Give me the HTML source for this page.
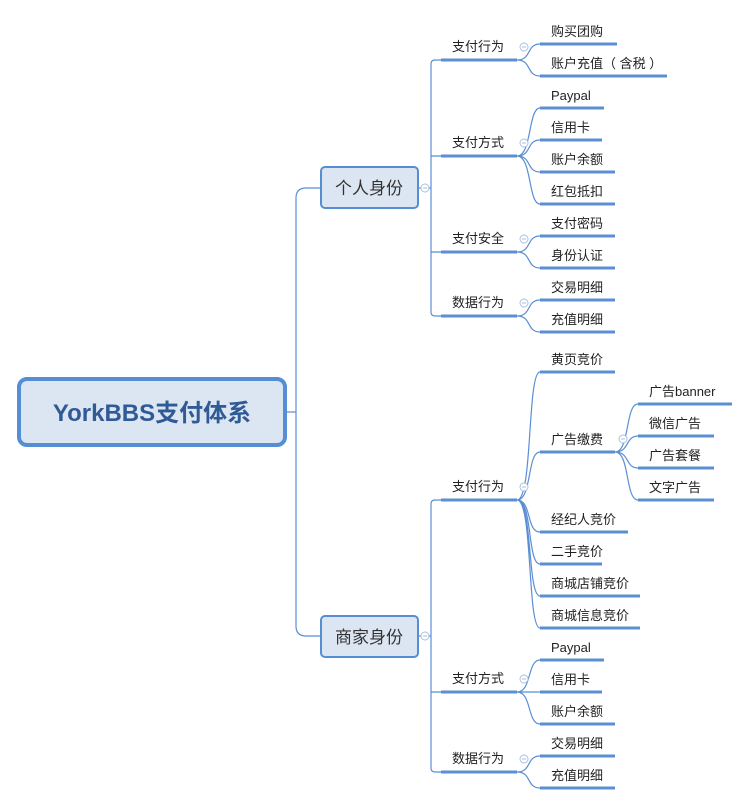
<!DOCTYPE html>
<html><head><meta charset="utf-8"><style>
body{margin:0;background:#fff}
svg{display:block}
text{font-family:"Liberation Sans","Noto Sans CJK SC",sans-serif;fill:#222;font-size:13px}
.u{stroke:#5b8fd4;stroke-width:3;fill:none}
.c{stroke:#5b8fd4;stroke-width:1.2;fill:none}
.o{stroke:#a9bfe6;stroke-width:1;fill:#fff}
</style></head><body>
<svg width="749" height="806" viewBox="0 0 749 806" xmlns="http://www.w3.org/2000/svg">
<path class="c" d="M287 412 H296 M306 188 Q296 188 296 198 V626 Q296 636 306 636 H321 M306 188 H321"/>
<rect x="19" y="379" width="266" height="66" rx="8" fill="#dce6f2" stroke="#558ed5" stroke-width="4"/>
<text x="152" y="421" text-anchor="middle" style="font-size:24px;font-weight:bold;fill:#2f5a96">YorkBBS支付体系</text>

<rect x="321" y="167" width="97" height="41" rx="4" fill="#dce6f2" stroke="#558ed5" stroke-width="2"/>
<text x="369" y="194" text-anchor="middle" style="font-size:17px;fill:#333">个人身份</text>
<rect x="321" y="616" width="97" height="41" rx="4" fill="#dce6f2" stroke="#558ed5" stroke-width="2"/>
<text x="369" y="643" text-anchor="middle" style="font-size:17px;fill:#333">商家身份</text>

<path class="c" d="M418 188 H431 M441 60 H435 Q431 60 431 64 V312 Q431 316 435 316 H441 M431 156 H441 M431 252 H441"/>
<path class="c" d="M418 636 H431 M441 500 H435 Q431 500 431 504 V768 Q431 772 435 772 H441 M431 692 H441"/>

<g>
<path class="u" d="M441 60 H517 M441 156 H517 M441 252 H517 M441 316 H517 M441 500 H517 M441 692 H517 M441 772 H517"/>
<text x="452" y="51">支付行为</text>
<text x="452" y="147">支付方式</text>
<text x="452" y="243">支付安全</text>
<text x="452" y="307">数据行为</text>
<text x="452" y="491">支付行为</text>
<text x="452" y="683">支付方式</text>
<text x="452" y="763">数据行为</text>
</g>

<path class="c" d="
M517 60 C532 60 526 44 540 44 M517 60 C532 60 526 76 540 76
M517 156 C532 156 528 108 540 108 M517 156 C532 156 526 140 540 140 M517 156 C532 156 526 172 540 172 M517 156 C532 156 528 204 540 204
M517 252 C532 252 526 236 540 236 M517 252 C532 252 526 268 540 268
M517 316 C532 316 526 300 540 300 M517 316 C532 316 526 332 540 332
M517 500 C533 500 527 372 540 372 M517 500 C532 500 527 452 540 452 M517 500 C532 500 526 532 540 532 M517 500 C533 500 527 564 540 564 M517 500 C533 500 527 596 540 596 M517 500 C533 500 527 628 540 628
M517 692 C532 692 527 660 540 660 M517 692 H540 M517 692 C532 692 527 724 540 724
M517 772 C532 772 526 756 540 756 M517 772 C532 772 526 788 540 788
M615 452 C630 452 625 404 638 404 M615 452 C630 452 625 436 638 436 M615 452 C630 452 625 468 638 468 M615 452 C630 452 625 500 638 500
"/>

<g>
<circle class="o" cx="425" cy="188" r="4"/><path d="M423 188 H427" stroke="#a9bfe6"/>
<circle class="o" cx="425" cy="636" r="4"/><path d="M423 636 H427" stroke="#a9bfe6"/>
<circle class="o" cx="524" cy="47" r="4"/><path d="M522 47 H526" stroke="#a9bfe6"/>
<circle class="o" cx="524" cy="143" r="4"/><path d="M522 143 H526" stroke="#a9bfe6"/>
<circle class="o" cx="524" cy="239" r="4"/><path d="M522 239 H526" stroke="#a9bfe6"/>
<circle class="o" cx="524" cy="303" r="4"/><path d="M522 303 H526" stroke="#a9bfe6"/>
<circle class="o" cx="524" cy="487" r="4"/><path d="M522 487 H526" stroke="#a9bfe6"/>
<circle class="o" cx="524" cy="679" r="4"/><path d="M522 679 H526" stroke="#a9bfe6"/>
<circle class="o" cx="524" cy="759" r="4"/><path d="M522 759 H526" stroke="#a9bfe6"/>
<circle class="o" cx="623" cy="439" r="4"/><path d="M621 439 H625" stroke="#a9bfe6"/>
</g>

<path class="u" d="
M540 44 H617 M540 76 H667 M540 108 H604 M540 140 H602 M540 172 H615 M540 204 H615 M540 236 H615 M540 268 H615 M540 300 H615 M540 332 H615
M540 372 H615 M540 452 H615 M540 532 H628 M540 564 H602 M540 596 H640 M540 628 H640
M540 660 H604 M540 692 H602 M540 724 H615 M540 756 H615 M540 788 H615
M638 404 H732 M638 436 H714 M638 468 H714 M638 500 H714"/>
<g>
<text x="551" y="36">购买团购</text>
<text x="551" y="68">账户充值（ 含税 ）</text>
<text x="551" y="100">Paypal</text>
<text x="551" y="132">信用卡</text>
<text x="551" y="164">账户余额</text>
<text x="551" y="196">红包抵扣</text>
<text x="551" y="228">支付密码</text>
<text x="551" y="260">身份认证</text>
<text x="551" y="292">交易明细</text>
<text x="551" y="324">充值明细</text>
<text x="551" y="364">黄页竞价</text>
<text x="551" y="444">广告缴费</text>
<text x="551" y="524">经纪人竞价</text>
<text x="551" y="556">二手竞价</text>
<text x="551" y="588">商城店铺竞价</text>
<text x="551" y="620">商城信息竞价</text>
<text x="551" y="652">Paypal</text>
<text x="551" y="684">信用卡</text>
<text x="551" y="716">账户余额</text>
<text x="551" y="748">交易明细</text>
<text x="551" y="780">充值明细</text>
<text x="649" y="396">广告banner</text>
<text x="649" y="428">微信广告</text>
<text x="649" y="460">广告套餐</text>
<text x="649" y="492">文字广告</text>
</g>
</svg>
</body></html>
